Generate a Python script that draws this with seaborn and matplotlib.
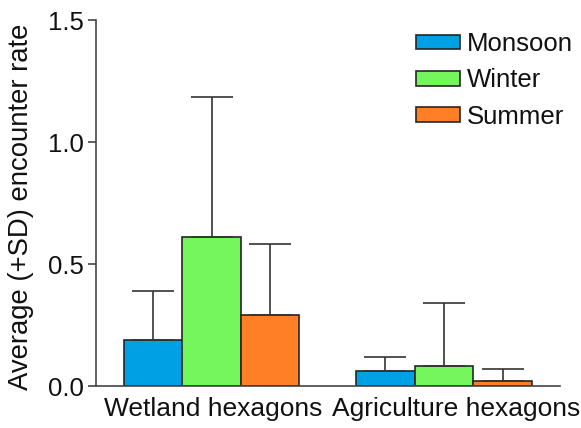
import matplotlib
matplotlib.use("Agg")
import matplotlib.pyplot as plt
import matplotlib.transforms as mtransforms
import seaborn as sns
import pandas as pd

habitats = ["Wetland hexagons", "Agriculture hexagons"]
seasons = ["Monsoon", "Winter", "Summer"]
mean_rate = {
    "Monsoon": [0.19, 0.06],
    "Winter": [0.61, 0.08],
    "Summer": [0.29, 0.02],
}
sd_rate = {
    "Monsoon": [0.20, 0.06],
    "Winter": [0.575, 0.26],
    "Summer": [0.29, 0.05],
}
season_colors = ["#00A1E4", "#74F65C", "#FF7F27"]

rows = []
for s in seasons:
    for h, m, sd in zip(habitats, mean_rate[s], sd_rate[s]):
        rows.append({"Habitat": h, "Season": s, "Rate": m, "SD": sd})
df = pd.DataFrame(rows)

sns.set_style("white")
plt.rcParams["font.family"] = ["Arial", "Liberation Sans", "DejaVu Sans"]
plt.rcParams["text.color"] = "#111111"
plt.rcParams["axes.labelcolor"] = "#111111"
plt.rcParams["xtick.labelcolor"] = "#111111"
plt.rcParams["ytick.labelcolor"] = "#111111"
FS = 18.5

fig = plt.figure(figsize=(5.81, 4.28), dpi=100)
ax = fig.add_axes([96 / 581, 1 - 386 / 428, (560 - 96) / 581, (386 - 20) / 428])

sns.barplot(data=df, x="Habitat", y="Rate", hue="Season", order=habitats,
            hue_order=seasons, palette=season_colors, errorbar=None,
            width=0.755, edgecolor="#262626", linewidth=1.2, saturation=1,
            ax=ax)

# upward-only SD whiskers on each bar
for container, s in zip(ax.containers, seasons):
    for patch, h in zip(container.patches, habitats):
        row = df[(df.Season == s) & (df.Habitat == h)].iloc[0]
        xc = patch.get_x() + patch.get_width() / 2
        ax.errorbar(xc, row.Rate, yerr=[[0], [row.SD]], fmt="none",
                    ecolor="#333333", elinewidth=1.2, capsize=15,
                    capthick=1.2, zorder=1)

ax.set_xlim(-0.497, 1.499)
ax.set_ylim(0, 1.5)
ax.set_yticks([0.0, 0.5, 1.0, 1.5])
ax.set_yticklabels(["0.0", "0.5", "1.0", "1.5"])
ax.set_xlabel("")
ax.set_ylabel("Average (+SD) encounter rate", fontsize=19.8)
ax.yaxis.set_label_coords(-0.134, 0.49)
ax.tick_params(axis="y", which="major", direction="out", length=6, width=1.2,
               color="#444444", labelsize=FS, left=True, pad=3)
ax.tick_params(axis="x", length=0, labelsize=19, pad=8)
for sp in ["top", "right"]:
    ax.spines[sp].set_visible(False)
for sp in ["left", "bottom"]:
    ax.spines[sp].set_color("#444444")
    ax.spines[sp].set_linewidth(1.2)

# nudge category labels apart a little
fig.canvas.draw()
for lab, dx in zip(ax.get_xticklabels(), [2, 12]):
    lab.set_transform(lab.get_transform() +
                      mtransforms.ScaledTranslation(dx / 100, 0, fig.dpi_scale_trans))

ax.legend(title=None, frameon=False, fontsize=FS, loc="upper left",
          bbox_to_anchor=(416 / 581, 1 - 32 / 428),
          bbox_transform=fig.transFigure, borderpad=0, borderaxespad=0,
          handlelength=1.7, handleheight=0.5, labelspacing=0.48,
          handletextpad=0.28)

fig.savefig("out.png", dpi=100)
